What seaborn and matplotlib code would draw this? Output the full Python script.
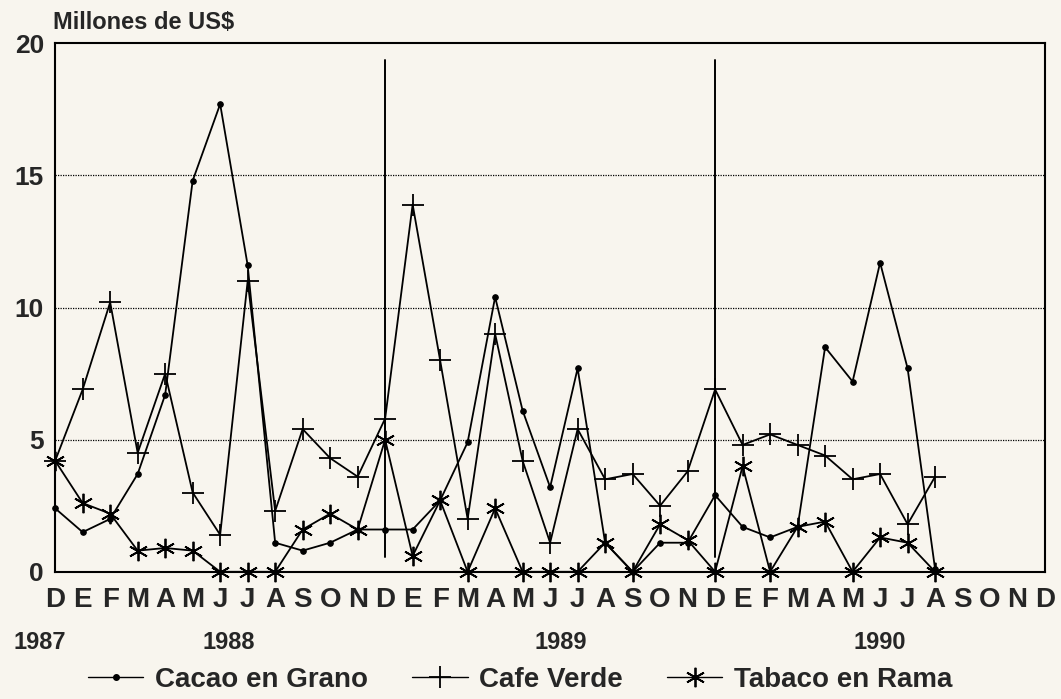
import numpy as np
import pandas as pd
import seaborn as sns
import matplotlib.pyplot as plt
from matplotlib.lines import Line2D

# month labels Dec 1987 .. Dec 1990
months = ["D"] + list("EFMAMJJASON") + ["D"] + list("EFMAMJJASON") + ["D"] + list("EFMAMJJASON") + ["D"]
years = ["1987", "1988", "1989", "1990"]
year_pos = [-0.55, 6.3, 18.4, 30.0]

# Millones de US$, Dec 1987 .. Aug 1990
cacao = [2.4, 1.5, 2.0, 3.7, 6.7, 14.8, 17.7, 11.6, 1.1, 0.8, 1.1, 1.6,
         1.6, 1.6, 2.7, 4.9, 10.4, 6.1, 3.2, 7.7, 1.1, 0.0, 1.1, 1.1,
         2.9, 1.7, 1.3, 1.7, 8.5, 7.2, 11.7, 7.7, 0.1]
cafe = [4.2, 6.9, 10.2, 4.5, 7.5, 3.0, 1.4, 11.0, 2.3, 5.4, 4.3, 3.6,
        5.8, 13.9, 8.0, 2.0, 9.0, 4.2, 1.1, 5.4, 3.5, 3.7, 2.5, 3.8,
        6.9, 4.8, 5.2, 4.8, 4.4, 3.5, 3.7, 1.8, 3.6]
tabaco = [4.2, 2.6, 2.2, 0.8, 0.9, 0.8, 0.0, 0.0, 0.0, 1.6, 2.2, 1.6,
          5.0, 0.6, 2.7, 0.0, 2.4, 0.0, 0.0, 0.0, 1.1, 0.0, 1.8, 1.2,
          0.0, 4.0, 0.0, 1.7, 1.9, 0.0, 1.3, 1.1, 0.0]
series_names = ["Cacao en Grano", "Cafe Verde", "Tabaco en Rama"]

df = pd.DataFrame({"idx": np.arange(len(cacao)),
                   series_names[0]: cacao,
                   series_names[1]: cafe,
                   series_names[2]: tabaco})

sns.set_style("white")
plt.rcParams['font.family'] = ['Liberation Sans', 'DejaVu Sans']
plt.rcParams['font.weight'] = 'bold'
paper = '#f8f5ee'

fig = plt.figure(figsize=(10.61, 6.99), dpi=100, facecolor=paper)
ax = fig.add_axes([0.052, 0.182, 0.933, 0.756], facecolor=paper)

styles = {
    "Cacao en Grano": dict(marker="o", markersize=4),
    "Cafe Verde": dict(marker="+", markersize=16, markeredgewidth=1.3),
    "Tabaco en Rama": dict(marker=(6, 2, 0), markersize=14, markeredgewidth=1.3),
}
for name in series_names:
    sns.lineplot(data=df, x="idx", y=name, ax=ax, color="black", linewidth=1.3,
                 markeredgecolor="black", label=name, legend=False, clip_on=False,
                 **styles[name])

ax.set_xlim(0, 36)
ax.set_ylim(0, 20)
ax.set_yticks([0, 5, 10, 15, 20])
ax.set_xticks(range(37))
ax.set_xticklabels(months, fontsize=20, fontweight='bold')
ax.tick_params(axis='y', length=0, labelsize=19, pad=8)
ax.tick_params(axis='x', direction='in', length=10, width=1.3, pad=11, color='black')
for lab in ax.get_yticklabels():
    lab.set_fontweight('bold')
ax.set_xlabel("")
ax.set_ylabel("")

for y in [5, 10, 15]:
    ax.axhline(y, color='black', linestyle=(0, (1, 1)), linewidth=0.9)
for x in [12, 24]:
    ax.axvline(x, ymin=0.028, ymax=0.968, color='black', linewidth=1.4)
for s in ax.spines.values():
    s.set_color('black')
    s.set_linewidth(1.5)

trans = ax.get_xaxis_transform()
for yr, xp in zip(years, year_pos):
    ax.text(xp, -0.133, yr, transform=trans, ha='center', va='center',
            fontsize=17, fontweight='bold')

fig.text(0.050, 0.968, "Millones de US$", fontsize=17, fontweight='bold',
         ha='left', va='center')

handles = [Line2D([], [], color='black', linewidth=1.0, **styles[n]) for n in series_names]
fig.legend(handles, series_names, loc='center', bbox_to_anchor=(0.49, 0.027),
           ncol=3, frameon=False, fontsize=20, handlelength=2.0, columnspacing=1.6,
           handletextpad=0.4)

fig.savefig("out.png", dpi=100, facecolor=paper)
